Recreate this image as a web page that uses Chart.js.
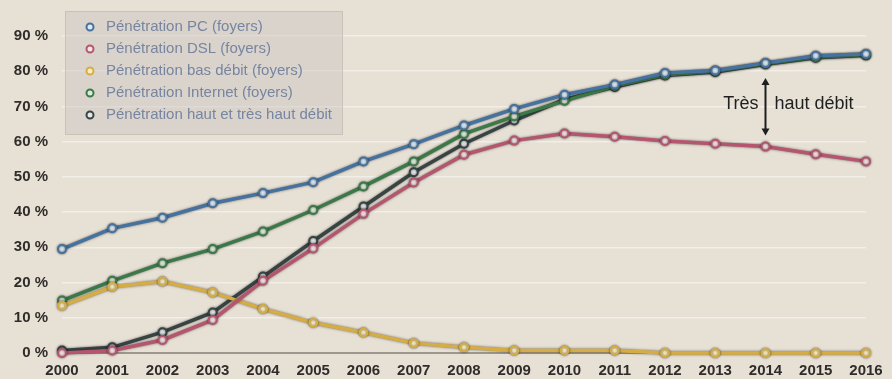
<!DOCTYPE html>
<html lang="fr">
<head>
<meta charset="utf-8">
<title>Pénétration PC, Internet et haut débit</title>
<script src="https://cdn.jsdelivr.net/npm/chart.js@4/dist/chart.umd.min.js"></script>
<style>
    html, body {
        margin: 0;
        padding: 0;
        background: #e7e0d5;
    }
    #penetrationChart {
        display: block;
    }
</style>
</head>
<body>
<canvas id="penetrationChart" width="892" height="379"></canvas>
<script>
/*
    Data: household penetration in percent, one value per year.
*/
const years = ['2000', '2001', '2002', '2003', '2004', '2005', '2006', '2007', '2008',
    '2009', '2010', '2011', '2012', '2013', '2014', '2015', '2016'];
const pcHouseholds = [29.5, 35.4, 38.4, 42.5, 45.4, 48.5, 54.4, 59.3, 64.6, 69.3, 73.3, 76.2, 79.5, 80.2, 82.3, 84.4, 84.9];
const dslHouseholds = [0, 0.7, 3.7, 9.4, 20.5, 29.7, 39.5, 48.4, 56.3, 60.3, 62.3, 61.4, 60.2, 59.4, 58.6, 56.4, 54.4];
const narrowbandHouseholds = [13.4, 18.8, 20.3, 17.2, 12.5, 8.6, 5.8, 2.8, 1.6, 0.7, 0.7, 0.7, 0, 0, 0, 0, 0];
const internetHouseholds = [14.9, 20.5, 25.5, 29.5, 34.5, 40.6, 47.3, 54.4, 62.2, 67.2, 71.6, 75.8, 79.0, 80.0, 82.1, 84.0, 84.7];
const broadbandHouseholds = [0.7, 1.6, 5.9, 11.5, 21.7, 31.8, 41.6, 51.3, 59.4, 66.0, 72.0, 75.5, 78.8, 79.8, 82.0, 83.8, 84.5];
const yTicks = [0, 10, 20, 30, 40, 50, 60, 70, 80, 90];

const seriesNames = [
    'Pénétration PC (foyers)',
    'Pénétration DSL (foyers)',
    'Pénétration bas débit (foyers)',
    'Pénétration Internet (foyers)',
    'Pénétration haut et très haut débit'
];
const annotationYear = '2014';

// line colour / point fill for each series
const lineColours = ['#45729f', '#b5566e', '#d6ad45', '#3b7a48', '#384444'];
const pointFills = ['#dde8f2', '#f4e2e6', '#f7ecbf', '#dcebdc', '#e4e8e8'];

/*
    Dark halo under the lines and points.
*/
const lineShadow = {
    id: 'lineShadow',
    beforeDatasetsDraw(chart) {
        const ctx = chart.ctx;
        ctx.save();
        ctx.shadowColor = 'rgba(20, 20, 20, 0.6)';
        ctx.shadowBlur = 2.5;
    },
    afterDatasetsDraw(chart) {
        chart.ctx.restore();
    }
};

/*
    Legend box drawn in the top left corner of the plot.
*/
const boxLegend = {
    id: 'boxLegend',
    afterDraw(chart) {
        const ctx = chart.ctx;
        ctx.save();
        ctx.fillStyle = 'rgba(205, 200, 196, 0.55)';
        ctx.fillRect(65, 11, 278, 124);
        ctx.strokeStyle = 'rgba(120, 110, 100, 0.18)';
        ctx.lineWidth = 1;
        ctx.strokeRect(65.5, 11.5, 277, 123);

        ctx.font = '15px "Liberation Sans", Arial, sans-serif';
        ctx.textBaseline = 'middle';
        chart.data.datasets.forEach((ds, i) => {
            const y = 27 + i * 22;
            ctx.beginPath();
            ctx.arc(90, y, 3.5, 0, Math.PI * 2);
            ctx.fillStyle = ds.pointBackgroundColor;
            ctx.fill();
            ctx.strokeStyle = ds.borderColor;
            ctx.lineWidth = 2;
            ctx.stroke();
            ctx.fillStyle = '#7785a0';
            ctx.fillText(ds.label, 106, y);
        });
        ctx.restore();
    }
};

/*
    Double arrow between the PC and DSL lines ("Très haut débit").
*/
const gapArrow = {
    id: 'gapArrow',
    afterDatasetsDraw(chart) {
        const ctx = chart.ctx;
        const idx = years.indexOf(annotationYear);
        const x = chart.scales.x.getPixelForValue(idx);
        const yTop = chart.scales.y.getPixelForValue(pcHouseholds[idx]) + 15;
        const yBottom = chart.scales.y.getPixelForValue(dslHouseholds[idx]) - 11;
        ctx.save();
        ctx.strokeStyle = '#1e1e1e';
        ctx.fillStyle = '#1e1e1e';
        ctx.lineWidth = 2;
        ctx.beginPath();
        ctx.moveTo(x, yTop + 4);
        ctx.lineTo(x, yBottom - 4);
        ctx.stroke();
        ctx.beginPath();
        ctx.moveTo(x, yTop);
        ctx.lineTo(x - 4, yTop + 7);
        ctx.lineTo(x + 4, yTop + 7);
        ctx.closePath();
        ctx.fill();
        ctx.beginPath();
        ctx.moveTo(x, yBottom);
        ctx.lineTo(x - 4, yBottom - 7);
        ctx.lineTo(x + 4, yBottom - 7);
        ctx.closePath();
        ctx.fill();

        const yText = (yTop + yBottom) / 2 - 3;
        ctx.font = '18px "Liberation Sans", Arial, sans-serif';
        ctx.textBaseline = 'middle';
        ctx.fillStyle = '#1f1f1f';
        ctx.textAlign = 'right';
        ctx.fillText('Très', x - 7, yText);
        ctx.textAlign = 'left';
        ctx.fillText('haut débit', x + 9, yText);
        ctx.restore();
    }
};

function buildDatasets() {
    const values = [pcHouseholds, dslHouseholds, narrowbandHouseholds, internetHouseholds, broadbandHouseholds];
    return values.map((data, i) => ({
        label: seriesNames[i],
        data: data,
        borderColor: lineColours[i],
        backgroundColor: lineColours[i],
        borderWidth: 3.5,
        pointRadius: 4,
        pointBorderWidth: 2,
        pointBackgroundColor: pointFills[i],
        pointBorderColor: lineColours[i],
        tension: 0,
        clip: false
    }));
}

function displayChart() {
    const ctx = document.getElementById('penetrationChart').getContext('2d');
    new Chart(ctx, {
        type: 'line',
        data: {
            labels: years,
            datasets: buildDatasets()
        },
        options: {
            responsive: false,
            animation: false,
            layout: {
                padding: { left: 0, top: 36, right: 26, bottom: 0 }
            },
            scales: {
                x: {
                    grid: { display: false, drawTicks: false },
                    border: { display: false },
                    afterFit: (scale) => { scale.height = 26; },
                    ticks: {
                        color: '#2f2c2a',
                        padding: 9,
                        maxRotation: 0,
                        autoSkip: false,
                        font: { family: '"Liberation Sans", Arial, sans-serif', size: 15, weight: 'bold' }
                    }
                },
                y: {
                    min: 0,
                    max: 90,
                    afterFit: (scale) => { scale.width = 62; },
                    afterBuildTicks: (scale) => { scale.ticks = yTicks.map(v => ({ value: v })); },
                    border: { display: false },
                    grid: {
                        drawTicks: false,
                        color: (c) => c.tick.value === 0 ? '#9e978e' : 'rgba(255, 255, 255, 0.45)',
                        lineWidth: (c) => c.tick.value === 0 ? 2 : 1.5
                    },
                    ticks: {
                        color: '#2f2c2a',
                        padding: 14,
                        callback: (v) => v + ' %',
                        font: { family: '"Liberation Sans", Arial, sans-serif', size: 15, weight: 'bold' }
                    }
                }
            },
            plugins: {
                legend: { display: false },
                tooltip: { enabled: false }
            }
        },
        plugins: [lineShadow, gapArrow, boxLegend]
    });
}

displayChart();
</script>
</body>
</html>
